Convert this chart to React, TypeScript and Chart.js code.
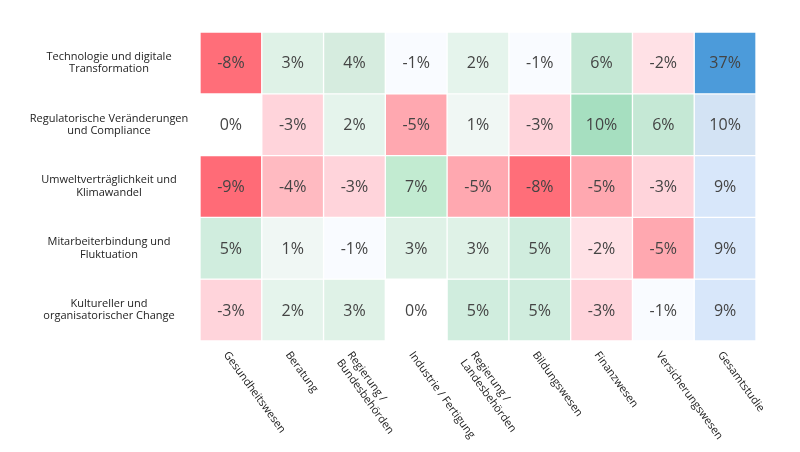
import React, { useEffect, useRef } from "react";
import { Chart, registerables } from "chart.js";

Chart.register(...registerables);

const columns: string[][] = [
  ["Gesundheitswesen"],
  ["Beratung"],
  ["Regierung /", "Bundesbehörden"],
  ["Industrie / Fertigung"],
  ["Regierung /", "Landesbehörden"],
  ["Bildungswesen"],
  ["Finanzwesen"],
  ["Versicherungswesen"],
  ["Gesamtstudie"],
];

const rows: string[][] = [
  ["Technologie und digitale", "Transformation"],
  ["Regulatorische Veränderungen", "und Compliance"],
  ["Umweltverträglichkeit und", "Klimawandel"],
  ["Mitarbeiterbindung und", "Fluktuation"],
  ["Kultureller und", "organisatorischer Change"],
];

const techValues = [-8, 3, 4, -1, 2, -1, 6, -2, 37];
const regValues = [0, -3, 2, -5, 1, -3, 10, 6, 10];
const umweltValues = [-9, -4, -3, 7, -5, -8, -5, -3, 9];
const mitarbeiterValues = [5, 1, -1, 3, 3, 5, -2, -5, 9];
const kulturValues = [-3, 2, 3, 0, 5, 5, -3, -1, 9];

const rowValues = [techValues, regValues, umweltValues, mitarbeiterValues, kulturValues];

const diffColors: Record<string, string> = {
  "-9": "#FF6B77",
  "-8": "#FF6E79",
  "-5": "#FFA8B0",
  "-4": "#FFBAC1",
  "-3": "#FFD4DB",
  "-2": "#FFE1E6",
  "-1": "#F9FBFF",
  "0": "#FFFFFF",
  "1": "#F0F7F4",
  "2": "#E5F4EC",
  "3": "#DFF2E7",
  "4": "#D6ECDF",
  "5": "#D0EDDE",
  "6": "#C5E8D5",
  "7": "#C2EBD1",
  "10": "#A6DFC0",
};
const totalColors: Record<string, string> = {
  "9": "#D8E7FA",
  "10": "#D3E3F4",
  "37": "#4C9BDA",
};

function cellColor(v: number, col: number): string {
  if (col === columns.length - 1) return totalColors[String(v)] || "#D8E7FA";
  return diffColors[String(v)] || "#FFFFFF";
}

const FONT = "'Open Sans', 'Noto Sans', sans-serif";
const ANGLE = (54 * Math.PI) / 180;

const labelPlugin = {
  id: "heatLabels",
  afterDatasetsDraw(chart: any) {
    const ctx = chart.ctx as CanvasRenderingContext2D;
    const xs = chart.scales.x;
    const ys = chart.scales.y;
    const area = chart.chartArea;
    ctx.save();
    // cell values
    ctx.font = `16px ${FONT}`;
    ctx.fillStyle = "#444444";
    ctx.textAlign = "center";
    ctx.textBaseline = "middle";
    chart.data.datasets.forEach((ds: any, di: number) => {
      const meta = chart.getDatasetMeta(di);
      meta.data.forEach((el: any, ci: number) => {
        const cy = (el.y + el.base) / 2;
        ctx.fillText(`${rowValues[di][ci]}%`, el.x, cy + 1);
      });
    });
    // row labels
    ctx.font = `11px ${FONT}`;
    ctx.fillStyle = "#222222";
    rows.forEach((lines, r) => {
      const cy = ys.getPixelForValue(r + 0.5);
      const lh = 12.5;
      const start = cy - ((lines.length - 1) * lh) / 2;
      lines.forEach((ln, li) => {
        ctx.fillText(ln, 109, start + li * lh);
      });
    });
    // column labels (rotated clockwise)
    ctx.textAlign = "left";
    columns.forEach((lines, c) => {
      const cx = xs.getPixelForValue(c) - 5;
      const cy = area.bottom + 12;
      const lh = 13;
      lines.forEach((ln, li) => {
        const off = li * lh;
        const px = cx - Math.sin(ANGLE) * off;
        const py = cy + Math.cos(ANGLE) * off;
        ctx.save();
        ctx.translate(px, py);
        ctx.rotate(ANGLE);
        ctx.fillText(ln, 0, 0);
        ctx.restore();
      });
    });
    ctx.restore();
  },
};

export default function App() {
  const canvasRef = useRef<HTMLCanvasElement | null>(null);

  useEffect(() => {
    if (!canvasRef.current) return;
    const chart = new Chart(canvasRef.current, {
      type: "bar",
      data: {
        labels: columns.map((c) => c.join(" ")),
        datasets: rowValues.map((vals, r) => ({
          label: rows[r].join(" "),
          data: vals.map(() => [r, r + 1]) as any,
          backgroundColor: vals.map((v, c) => cellColor(v, c)),
          borderColor: "#FFFFFF",
          borderWidth: 1,
          borderSkipped: false,
          barPercentage: 1,
          categoryPercentage: 1,
          grouped: false,
        })),
      },
      options: {
        animation: false,
        responsive: false,
        maintainAspectRatio: false,
        devicePixelRatio: 1,
        layout: { padding: { left: 200, right: 44, top: 32, bottom: 111 } },
        plugins: {
          legend: { display: false },
          tooltip: { enabled: false },
          title: { display: false },
        },
        scales: {
          x: { type: "category", display: false, offset: true, grid: { display: false } },
          y: { type: "linear", display: false, min: 0, max: 5, reverse: true },
        },
      },
      plugins: [labelPlugin],
    });
    return () => chart.destroy();
  }, []);

  return (
    <div style={{ position: "fixed", left: 0, top: 0, width: 800, height: 452, background: "#FFFFFF" }}>
      <canvas ref={canvasRef} width={800} height={452} style={{ width: 800, height: 452 }} />
    </div>
  );
}
